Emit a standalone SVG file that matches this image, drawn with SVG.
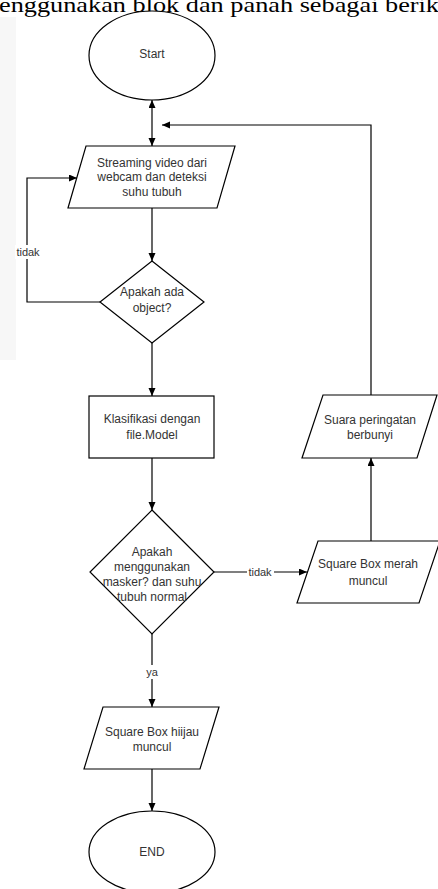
<svg xmlns="http://www.w3.org/2000/svg" width="438" height="889" viewBox="0 0 438 889">
  <style>
    .shape { fill: #ffffff; stroke: #000000; stroke-width: 1.2; }
    .conn { fill: none; stroke: #000000; stroke-width: 1.2; }
    .lbl { font-family: "Liberation Sans", Arial, sans-serif; font-size: 12px; fill: #333333; text-anchor: middle; }
    .edge { font-family: "Liberation Sans", Arial, sans-serif; font-size: 11px; fill: #333333; text-anchor: middle; }
    .head { font-family: "Liberation Serif", "Times New Roman", serif; font-size: 22px; fill: #000000; }
  </style>
  <defs>
    <marker id="arr" markerWidth="9" markerHeight="8" refX="8" refY="3.5" orient="auto-start-reverse" markerUnits="userSpaceOnUse">
      <path d="M0,0 L8,3.5 L0,7 Z" fill="#000000"/>
    </marker>
  </defs>
  <rect x="0" y="0" width="438" height="889" fill="#ffffff"/>
  <rect x="0" y="17" width="16" height="343" fill="#f7f7f7"/>
  <text class="head" x="-1" y="12" textLength="440" lengthAdjust="spacingAndGlyphs">enggunakan blok dan panah sebagai berik</text>

  <g id="connectors">
    <line class="conn" x1="152" y1="100" x2="152" y2="146" marker-start="url(#arr)" marker-end="url(#arr)"/>
    <line class="conn" x1="152" y1="208" x2="152" y2="261" marker-end="url(#arr)"/>
    <polyline class="conn" points="100,302 27,302 27,178 77,178" marker-end="url(#arr)"/>
    <line class="conn" x1="152" y1="343" x2="152" y2="396" marker-end="url(#arr)"/>
    <line class="conn" x1="152" y1="458" x2="152" y2="510" marker-end="url(#arr)"/>
    <line class="conn" x1="214" y1="572" x2="307" y2="572" marker-end="url(#arr)"/>
    <line class="conn" x1="371" y1="541" x2="371" y2="458" marker-end="url(#arr)"/>
    <polyline class="conn" points="371,395 371,125 162,125" marker-end="url(#arr)"/>
    <line class="conn" x1="152" y1="634" x2="152" y2="707" marker-end="url(#arr)"/>
    <line class="conn" x1="152" y1="769" x2="152" y2="811" marker-end="url(#arr)"/>
    <rect x="15" y="245" width="26" height="14" fill="#ffffff"/>
    <text class="edge" x="28" y="256">tidak</text>
    <rect x="247" y="565" width="27" height="14" fill="#ffffff"/>
    <text class="edge" x="260" y="576">tidak</text>
    <rect x="145" y="665" width="14" height="14" fill="#ffffff"/>
    <text class="edge" x="152" y="676">ya</text>
  </g>

  <g id="start">
    <ellipse class="shape" cx="152" cy="55.5" rx="63" ry="44.5"/>
    <text class="lbl" x="152" y="58">Start</text>
  </g>
  <g id="streaming">
    <polygon class="shape" points="86,146 235,146 217,208 68,208"/>
    <text class="lbl" x="152" y="167">Streaming video dari</text>
    <text class="lbl" x="152" y="181">webcam dan deteksi</text>
    <text class="lbl" x="152" y="196">suhu tubuh</text>
  </g>
  <g id="decision-object">
    <polygon class="shape" points="152,261 204,302 152,343 100,302"/>
    <text class="lbl" x="152" y="296">Apakah ada</text>
    <text class="lbl" x="152" y="312">object?</text>
  </g>
  <g id="klasifikasi">
    <rect class="shape" x="89" y="396" width="125" height="62"/>
    <text class="lbl" x="152" y="423">Klasifikasi dengan</text>
    <text class="lbl" x="152" y="439">file.Model</text>
  </g>
  <g id="decision-masker">
    <polygon class="shape" points="152,510 214,572 152,634 90,572"/>
    <text class="lbl" x="152" y="556">Apakah</text>
    <text class="lbl" x="152" y="571">menggunakan</text>
    <text class="lbl" x="152" y="586">masker? dan suhu</text>
    <text class="lbl" x="152" y="601">tubuh normal</text>
  </g>
  <g id="merah">
    <polygon class="shape" points="318,541 440,541 419,603 297,603"/>
    <text class="lbl" x="368" y="568">Square Box merah</text>
    <text class="lbl" x="368" y="585">muncul</text>
  </g>
  <g id="suara">
    <polygon class="shape" points="323,395 437,395 417,458 302,458"/>
    <text class="lbl" x="370" y="424">Suara peringatan</text>
    <text class="lbl" x="370" y="439">berbunyi</text>
  </g>
  <g id="hijau">
    <polygon class="shape" points="103,707 219,707 200,769 84,769"/>
    <text class="lbl" x="152" y="736">Square Box hiijau</text>
    <text class="lbl" x="152" y="751">muncul</text>
  </g>
  <g id="end">
    <ellipse class="shape" cx="152" cy="852" rx="63" ry="41"/>
    <text class="lbl" x="152" y="856">END</text>
  </g>
</svg>
